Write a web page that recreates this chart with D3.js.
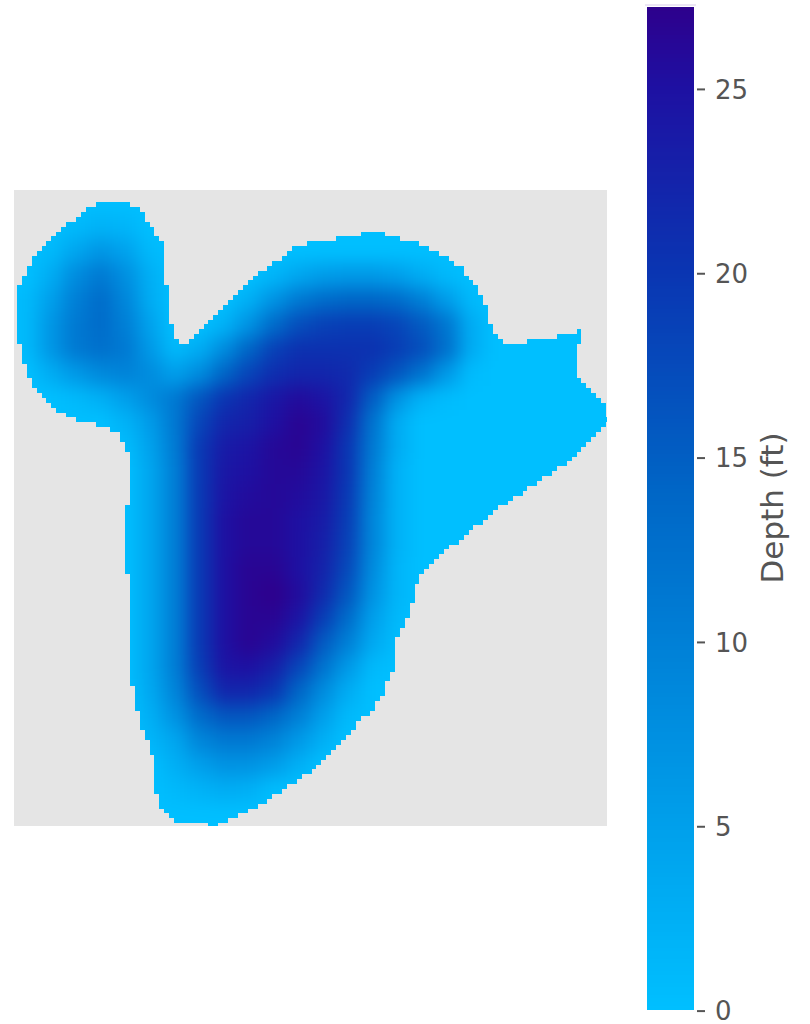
<!DOCTYPE html>
<html><head><meta charset="utf-8">
<script src="https://cdn.jsdelivr.net/npm/d3@7"></script>
<style>html,body{margin:0;padding:0;background:#fff}svg{display:block}text{font-family:"DejaVu Sans";fill:#555}</style>
</head><body><svg id="c" width="810" height="1024"></svg>
<script>
// Depth readings (ft) on a coarse survey grid: one list per row, north to south
const depthRows = [
 [0,0,0,0,0,0,0,0,0,0,0,0,0,0,0,0,0,0,0,0],
 [0,0,1,2,1.5,0,0,0,0,0,0,0,0,0,0,0,0,0,0,0],
 [0,1,4,6.5,4.5,1,0,0,0,0,0,0,0,0,0,0,0,0,0,0],
 [0,3,8,11,7.5,2.5,0,0,0,0,1.5,4,5.5,6,6,5,3,1,0,0],
 [1,5,10,13,9,3,0,0,0,2.5,7,11,13,14,14,13,10,5.5,1,0],
 [1,6.5,11,13,10,4.5,0,0,2,7,13,17,18.5,19,19,18,15.5,11.5,3,0],
 [1,6.5,11,12.5,11,6,1,3,8,14,18.5,20.5,20.5,20.5,20.5,19,17,12.5,3,0],
 [0,3,6,8.5,9.5,8,5,8,14,18,21,22,22,21.5,19,16,12,6,0.5,0],
 [0,0,1,2.5,5,8,11,16,20,22,24,25.5,24.5,22,15,7,2,0.5,0,0],
 [0,0,0,0,2,5.5,11,18,22,23,25,26.5,25.5,21,12,3,0,0,0,0],
 [0,0,0,0,0.5,4.5,10.5,19.5,23.5,24.5,26,26.5,25,20,11,3,0,0,0,0],
 [0,0,0,0,0,4,10,19.5,24,25,26,26,24.5,20,10,2,0,0,0,0],
 [0,0,0,0,0,4,10,19.5,24.5,25.5,26,25.5,24,19.5,9.5,2,0,0,0,0],
 [0,0,0,0,0,4,10,19.5,25,26,26,25,23.5,19,9,2,0,0,0,0],
 [0,0,0,0,0,4,10,19.5,25,26,26,25,23,18.5,9,2,0,0,0,0],
 [0,0,0,0,0,4,10,19.5,25,26.5,26.5,25,22.5,17.5,8,1.5,0,0,0,0],
 [0,0,0,0,0,4,10,19.5,25,26.5,27.2,25.5,21.5,16,7,1.5,0,0,0,0],
 [0,0,0,0,0,4,10,19.5,25,26.5,26.5,24.5,19,13,5,1,0,0,0,0],
 [0,0,0,0,0,4,10,19.5,25,26.5,25.5,22,15.5,10,3.5,0.5,0,0,0,0],
 [0,0,0,0,0,4,10,19,24.5,25,23,18,12,6,1,0,0,0,0,0],
 [0,0,0,0,0,3.5,9,17,22,22,20,14,8,3,0,0,0,0,0,0],
 [0,0,0,0,0,2.5,7,13,16,16,14,10,5,1,0,0,0,0,0,0],
 [0,0,0,0,0,1.5,4,9,11,11,9.5,6,2.5,0,0,0,0,0,0,0],
 [0,0,0,0,0,0,2.5,5,7,7,5.5,2.5,0,0,0,0,0,0,0,0],
 [0,0,0,0,0,0,1,2,3,2.5,0.5,0,0,0,0,0,0,0,0,0],
 [0,0,0,0,0,0,0,0,0,0,0,0,0,0,0,0,0,0,0,0]
];
// Surveyed extent: [grid row, first column edge, last column edge]
const westLobeSpans = [[2,16,23],[3,14,25],[4,13,26],[5,12,26],[6,10,27],[7,9,28],[8,8,28],[9,7,29],[10,6,30],[11,5,30],[12,4,30],[13,3,30],[14,3,30],[15,2,30],[16,2,30],[17,1,30],[18,1,30],[19,0,31],[20,0,31],[21,0,31],[22,0,31],[23,0,31],[24,0,31],[25,0,31],[26,0,31],[27,0,32],[28,0,32],[29,0,32],[30,0,33]];
const northArmSpans = [[8,70,75],[9,65,78],[10,59,82],[11,56,84],[12,55,86],[13,54,88],[14,52,89],[15,51,91],[16,49,91],[17,48,92],[18,47,93],[19,46,94],[20,45,94],[21,44,95],[22,43,95],[23,42,96],[24,41,96],[25,40,96],[26,39,96],[27,38,97],[28,37,97],[29,36,98],[30,35,99],[28,114,115],[29,110,115],[30,104,115]];
const mainBodySpans = [[31,1,114],[32,1,114],[33,1,114],[34,1,114],[35,2,114],[36,2,114],[37,2,114],[38,3,115],[39,3,116],[40,4,117],[41,5,118],[42,6,119],[43,7,120],[44,8,120],[45,10,120],[46,12,121],[47,16,120],[48,19,119],[49,21,118],[50,21,117],[51,22,116],[52,22,115],[53,23,114],[54,23,113],[55,23,112],[56,23,110],[57,23,109],[58,23,107],[59,23,106],[60,23,104],[61,23,103],[62,23,101],[63,23,100],[64,22,98],[65,22,97],[66,22,96],[67,22,95],[68,22,93],[69,22,92],[70,22,91],[71,22,90],[72,22,88],[73,22,87],[74,22,86],[75,22,85],[76,22,84],[77,22,83],[78,23,82],[79,23,82],[80,23,81],[81,23,81],[82,23,81],[83,23,81],[84,23,80],[85,23,80],[86,23,80],[87,23,79],[88,23,79],[89,23,78],[90,23,78],[91,23,77],[92,23,77],[93,23,77],[94,23,77],[95,23,77],[96,23,77],[97,23,77],[98,23,76],[99,23,76],[100,23,75],[101,24,75],[102,24,75],[103,24,74],[104,24,73],[105,24,73],[106,25,72],[107,25,70],[108,25,69],[109,25,69],[110,26,68],[111,26,67],[112,27,66],[113,27,65],[114,27,64],[115,28,63],[116,28,62],[117,28,61],[118,28,60],[119,28,58],[120,28,57],[121,28,55],[122,28,54],[123,29,52],[124,29,51],[125,29,49],[126,30,47],[127,31,45],[128,32,43],[129,39,41]];
const colorbarTicks = [0,5,10,15,20,25];
const colorStops = [0,14,20,25,27.2];
const colorValues = ["#00BFFF","#0066C6","#0A35B2","#1E10A2","#2E008C"];
const depthMax = 27.2;
const axisTitle = "Depth (ft)";

const svg = d3.select("#c");
const color = d3.scaleLinear().domain(colorStops).range(colorValues).clamp(true);
const panel = {x0:14,x1:607,y0:190,y1:826};
const xEdge = d3.scaleLinear().domain([0,120]).range([17,606]);
const yEdge = d3.scaleLinear().domain([0,130]).range([192.45,828.15]);
const xCoarse = d3.scaleBand().domain(d3.range(24)).range([panel.x0,panel.x1]);
const yCoarse = d3.scaleBand().domain(d3.range(depthRows.length)).range([panel.y0,panel.y1]);

const defs = svg.append("defs");
const p = d3.path();
for (const [f,a,b] of [...westLobeSpans,...northArmSpans,...mainBodySpans]) {
  const x=Math.round(xEdge(a)), w=Math.round(xEdge(b))-x, y=Math.round(yEdge(f)), h=Math.round(yEdge(f+1))-y;
  p.rect(x,y,w,h);
}
defs.append("clipPath").attr("id","mask").append("path").attr("d",p.toString());
defs.append("clipPath").attr("id","panel").append("rect")
  .attr("x",panel.x0).attr("y",panel.y0).attr("width",panel.x1-panel.x0).attr("height",panel.y1-panel.y0);
defs.append("filter").attr("id","soft").attr("filterUnits","userSpaceOnUse")
  .attr("x",-50).attr("y",100).attr("width",800).attr("height",800)
  .attr("color-interpolation-filters","sRGB")
  .append("feGaussianBlur").attr("stdDeviation",9);

svg.append("rect").attr("x",panel.x0).attr("y",panel.y0)
  .attr("width",panel.x1-panel.x0).attr("height",panel.y1-panel.y0).attr("fill","#e5e5e5");

const clipOuter = svg.append("g").attr("clip-path","url(#panel)").append("g").attr("clip-path","url(#mask)");
const field = clipOuter.append("g").attr("filter","url(#soft)").attr("shape-rendering","crispEdges");
field.append("rect").attr("x",-50).attr("y",100).attr("width",800).attr("height",800).attr("fill",color(0));
depthRows.forEach((row,r)=>{
  field.selectAll(null).data(row).join("rect")
    .attr("x",(d,c)=>xCoarse(c)).attr("y",yCoarse(r))
    .attr("width",xCoarse.bandwidth()+0.5).attr("height",yCoarse.bandwidth()+0.5)
    .attr("fill",d=>color(d));
});

// colour bar
const yBar = d3.scaleLinear().domain([0,depthMax]).range([1009.6,6.8]);
const barX=647, barW=47;
const steps = d3.range(0,depthMax,depthMax/256);
svg.append("g").attr("shape-rendering","crispEdges").selectAll("rect").data(steps).join("rect")
  .attr("x",barX).attr("width",barW)
  .attr("y",d=>yBar(d+depthMax/256)).attr("height",d=>yBar(d)-yBar(d+depthMax/256)+0.6)
  .attr("fill",d=>color(d));
svg.append("line").attr("x1",645).attr("x2",696).attr("y1",5).attr("y2",5).attr("stroke","#d8cdea").attr("stroke-width",1);

const axisG = svg.append("g").attr("transform",`translate(${barX+barW+3},1)`);
const axis = d3.axisRight(yBar).tickValues(colorbarTicks).tickSize(8).tickPadding(10).tickFormat(d3.format("d"));
axisG.call(axis);
axisG.select(".domain").remove();
axisG.selectAll(".tick line").attr("stroke","#555").attr("stroke-width",2);
axisG.selectAll(".tick text").attr("fill","#555").style("font-size","26px").style("font-family","DejaVu Sans").attr("dy","0.36em");
svg.append("text").attr("transform","translate(774,508) rotate(-90)").attr("text-anchor","middle")
  .attr("dominant-baseline","middle").style("font-size","31px").text(axisTitle);
</script></body></html>
